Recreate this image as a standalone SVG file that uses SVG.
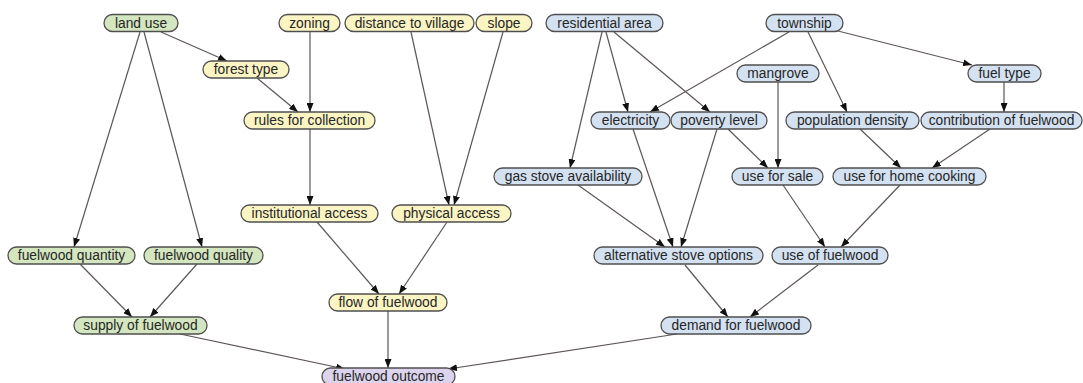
<svg xmlns="http://www.w3.org/2000/svg" width="1083" height="383" viewBox="0 0 1083 383">
<defs>
<marker id="ah" markerUnits="userSpaceOnUse" markerWidth="9" markerHeight="7" refX="9" refY="3.5" orient="auto">
<path d="M0,0 L9,3.5 L0,7 z" fill="#111"/>
</marker>
<style>
.n rect{stroke:#4f4f4f;stroke-width:1.3}
.g rect{fill:#d3e6bf}
.y rect{fill:#fbf4c3}
.b rect{fill:#d3e1f1}
.p rect{fill:#dcd4ec}
.n text{font-family:"Liberation Sans",Arial,sans-serif;font-size:13.8px;fill:#262626;text-anchor:middle;dominant-baseline:central}
#edges line{stroke:#5e5656;stroke-width:1.2;marker-end:url(#ah)}
</style>
</defs>
<rect width="1083" height="383" fill="#ffffff"/>
<g id="edges">
<line x1="161" y1="32" x2="227" y2="61"/>
<line x1="140" y1="32" x2="74" y2="247"/>
<line x1="144" y1="32" x2="202" y2="247"/>
<line x1="310" y1="32" x2="310" y2="112"/>
<line x1="257" y1="78" x2="298" y2="112"/>
<line x1="310" y1="129" x2="310" y2="205"/>
<line x1="411" y1="32" x2="449" y2="205"/>
<line x1="503" y1="32" x2="454" y2="205"/>
<line x1="317" y1="222" x2="379" y2="294"/>
<line x1="447" y1="222" x2="399" y2="294"/>
<line x1="388" y1="311" x2="388" y2="368"/>
<line x1="80" y1="264" x2="132" y2="317"/>
<line x1="197" y1="264" x2="150" y2="317"/>
<line x1="180" y1="334" x2="345" y2="369"/>
<line x1="677" y1="334" x2="448" y2="369"/>
<line x1="606" y1="32" x2="628" y2="112"/>
<line x1="602" y1="32" x2="570" y2="168"/>
<line x1="614" y1="32" x2="710" y2="112"/>
<line x1="789" y1="32" x2="650" y2="112"/>
<line x1="808" y1="32" x2="847" y2="112"/>
<line x1="838" y1="31" x2="972" y2="65"/>
<line x1="778" y1="82" x2="778" y2="168"/>
<line x1="728" y1="129" x2="768" y2="168"/>
<line x1="1004" y1="82" x2="1004" y2="112"/>
<line x1="860" y1="129" x2="901" y2="168"/>
<line x1="990" y1="129" x2="932" y2="168"/>
<line x1="633" y1="129" x2="673" y2="247"/>
<line x1="717" y1="129" x2="681" y2="247"/>
<line x1="578" y1="185" x2="665" y2="247"/>
<line x1="783" y1="185" x2="825" y2="247"/>
<line x1="900" y1="185" x2="841" y2="247"/>
<line x1="685" y1="265" x2="728" y2="317"/>
<line x1="818" y1="265" x2="750" y2="317"/>
</g>
<g id="land-use" class="n g"><rect x="104" y="14.5" width="74" height="17" rx="8.5"/><text x="141" y="23">land use</text></g>
<g id="zoning" class="n y"><rect x="279" y="14.5" width="61" height="17" rx="8.5"/><text x="309.5" y="23">zoning</text></g>
<g id="distance-to-village" class="n y"><rect x="345" y="14.5" width="129" height="17" rx="8.5"/><text x="409.5" y="23">distance to village</text></g>
<g id="slope" class="n y"><rect x="476" y="14.5" width="56" height="17" rx="8.5"/><text x="504" y="23">slope</text></g>
<g id="residential-area" class="n b"><rect x="546" y="14.5" width="117" height="17" rx="8.5"/><text x="604.5" y="23">residential area</text></g>
<g id="township" class="n b"><rect x="766" y="14.5" width="77" height="17" rx="8.5"/><text x="804.5" y="23">township</text></g>
<g id="forest-type" class="n y"><rect x="203" y="61" width="86" height="17" rx="8.5"/><text x="246" y="69.5">forest type</text></g>
<g id="mangrove" class="n b"><rect x="737" y="65" width="82" height="17" rx="8.5"/><text x="778" y="73.5">mangrove</text></g>
<g id="fuel-type" class="n b"><rect x="968" y="65" width="73" height="17" rx="8.5"/><text x="1004.5" y="73.5">fuel type</text></g>
<g id="rules-for-collection" class="n y"><rect x="244" y="112" width="131" height="17" rx="8.5"/><text x="309.5" y="120.5">rules for collection</text></g>
<g id="electricity" class="n b"><rect x="591" y="112" width="79" height="17" rx="8.5"/><text x="630.5" y="120.5">electricity</text></g>
<g id="poverty-level" class="n b"><rect x="671" y="112" width="96" height="17" rx="8.5"/><text x="719" y="120.5">poverty level</text></g>
<g id="population-density" class="n b"><rect x="786" y="112" width="133" height="17" rx="8.5"/><text x="852.5" y="120.5">population density</text></g>
<g id="contribution-of-fuelwood" class="n b"><rect x="921" y="112" width="161" height="17" rx="8.5"/><text x="1001.5" y="120.5">contribution of fuelwood</text></g>
<g id="gas-stove-availability" class="n b"><rect x="494" y="168" width="148" height="17" rx="8.5"/><text x="568" y="176.5">gas stove availability</text></g>
<g id="use-for-sale" class="n b"><rect x="732" y="168" width="91" height="17" rx="8.5"/><text x="777.5" y="176.5">use for sale</text></g>
<g id="use-for-home-cooking" class="n b"><rect x="833" y="168" width="153" height="17" rx="8.5"/><text x="909.5" y="176.5">use for home cooking</text></g>
<g id="institutional-access" class="n y"><rect x="241" y="205" width="137" height="17" rx="8.5"/><text x="309.5" y="213.5">institutional access</text></g>
<g id="physical-access" class="n y"><rect x="392" y="205" width="119" height="17" rx="8.5"/><text x="451.5" y="213.5">physical access</text></g>
<g id="fuelwood-quantity" class="n g"><rect x="8" y="247" width="127" height="17" rx="8.5"/><text x="71.5" y="255.5">fuelwood quantity</text></g>
<g id="fuelwood-quality" class="n g"><rect x="144" y="247" width="119" height="17" rx="8.5"/><text x="203.5" y="255.5">fuelwood quality</text></g>
<g id="alternative-stove-options" class="n b"><rect x="594" y="247" width="169" height="17" rx="8.5"/><text x="678.5" y="255.5">alternative stove options</text></g>
<g id="use-of-fuelwood" class="n b"><rect x="772" y="247" width="116" height="17" rx="8.5"/><text x="830" y="255.5">use of fuelwood</text></g>
<g id="flow-of-fuelwood" class="n y"><rect x="329" y="294" width="118" height="17" rx="8.5"/><text x="388" y="302.5">flow of fuelwood</text></g>
<g id="supply-of-fuelwood" class="n g"><rect x="74" y="317" width="133" height="17" rx="8.5"/><text x="140.5" y="325.5">supply of fuelwood</text></g>
<g id="demand-for-fuelwood" class="n b"><rect x="661" y="317" width="150" height="17" rx="8.5"/><text x="736" y="325.5">demand for fuelwood</text></g>
<g id="fuelwood-outcome" class="n p"><rect x="322" y="368" width="133" height="17" rx="8.5"/><text x="388.5" y="376.5">fuelwood outcome</text></g>
</svg>
